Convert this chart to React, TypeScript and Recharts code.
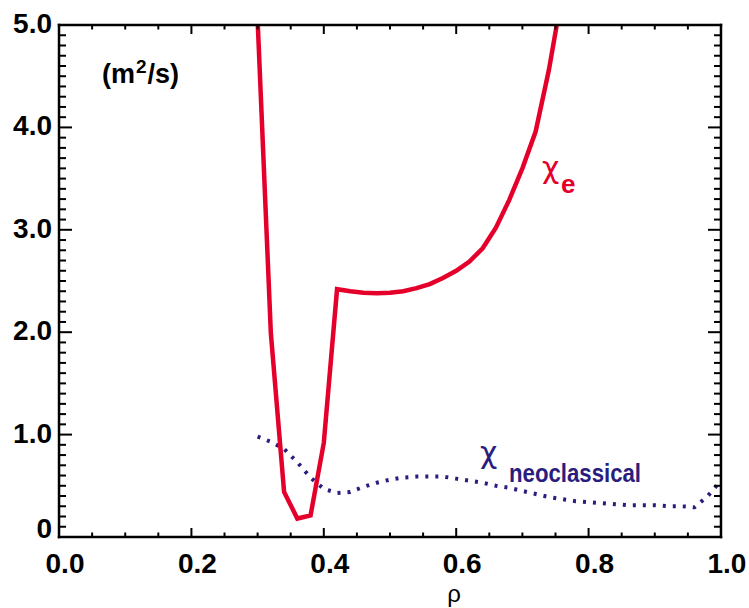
import React from 'react';
import { LineChart, Line, XAxis, YAxis } from 'recharts';

// rho grid and the two diffusivity profiles (m^2/s)
const rho = [
  0.30, 0.32, 0.34, 0.36, 0.38, 0.40, 0.42, 0.44, 0.46, 0.48, 0.50, 0.52,
  0.54, 0.56, 0.58, 0.60, 0.62, 0.64, 0.66, 0.68, 0.70, 0.72, 0.74, 0.76,
  0.78, 0.80, 0.82, 0.84, 0.86, 0.88, 0.90, 0.92, 0.94, 0.96, 0.98, 1.00,
];
const chiE = [
  5.05, 1.99, 0.44, 0.18, 0.21, 0.92, 2.42, 2.40, 2.385, 2.38, 2.385, 2.40,
  2.43, 2.47, 2.53, 2.60, 2.69, 2.82, 3.02, 3.29, 3.60, 3.96, 4.56, 5.30,
];
const chiNeo = [
  0.98, 0.93, 0.86, 0.73, 0.58, 0.47, 0.43, 0.44, 0.49, 0.53, 0.56, 0.58,
  0.59, 0.59, 0.59, 0.57, 0.55, 0.53, 0.50, 0.48, 0.45, 0.42, 0.39, 0.37,
  0.35, 0.34, 0.33, 0.32, 0.31, 0.31, 0.31, 0.30, 0.30, 0.29, 0.40, 0.55,
];

const xMajor = [0, 0.2, 0.4, 0.6, 0.8, 1.0];
const xMinor = [0.05, 0.1, 0.15, 0.25, 0.3, 0.35, 0.45, 0.5, 0.55, 0.65, 0.7, 0.75, 0.85, 0.9, 0.95];
const yMajor = [0, 1, 2, 3, 4, 5];
const yMinor = [
  0.1, 0.2, 0.3, 0.4, 0.5, 0.6, 0.7, 0.8, 0.9,
  1.1, 1.2, 1.3, 1.4, 1.5, 1.6, 1.7, 1.8, 1.9,
  2.1, 2.2, 2.3, 2.4, 2.5, 2.6, 2.7, 2.8, 2.9,
  3.1, 3.2, 3.3, 3.4, 3.5, 3.6, 3.7, 3.8, 3.9,
  4.1, 4.2, 4.3, 4.4, 4.5, 4.6, 4.7, 4.8, 4.9,
];
const yLabels = ['0', '1.0', '2.0', '3.0', '4.0', '5.0'];

const data = rho.map((r, i) => ({
  rho: r,
  chiE: i < chiE.length ? chiE[i] : null,
  chiNeo: chiNeo[i],
}));

const FONT = '"Liberation Sans", Arial, Helvetica, sans-serif';
const GREEK = '"DejaVu Sans", sans-serif';
const RED = '#e4002b';
const BLUE = '#2b1d7d';
// axes must have a positive size to be drawn; keep it negligible
const THIN = 0.01;

const axisStyle = { stroke: '#000', strokeWidth: 2.5, strokeLinecap: 'square' as const };

type Side = 'bottom' | 'top' | 'left' | 'right';

// tick renderer that draws an inward tick mark (and optionally the label)
const makeTick = (side: Side, len: number, withLabel: boolean) => (props: any) => {
  const { x, y, payload } = props;
  const v = Number(payload.value);
  let x2 = x;
  let y2 = y;
  if (side === 'bottom') y2 = y - len;
  if (side === 'top') y2 = y + len;
  if (side === 'left') x2 = x + len;
  if (side === 'right') x2 = x - len;
  let label = null;
  if (withLabel && side === 'bottom') {
    label = (
      <text x={x + 6} y={y + 36} textAnchor="middle" fontSize={28} fontWeight="bold" fontFamily={FONT} fill="#000">
        {v.toFixed(1)}
      </text>
    );
  }
  if (withLabel && side === 'left') {
    label = (
      <text x={x - 7} y={y + (v === 0 ? 1 : 8)} textAnchor="end" fontSize={28} fontWeight="bold" fontFamily={FONT} fill="#000">
        {yLabels[yMajor.indexOf(v)]}
      </text>
    );
  }
  return (
    <g>
      <line x1={x} y1={y} x2={x2} y2={y2} stroke="#000" strokeWidth={2} />
      {label}
    </g>
  );
};

export default function App() {
  return (
    <div style={{ position: 'absolute', left: 0, top: 0, width: 749, height: 608, background: '#fff' }}>
      <LineChart width={749} height={608} data={data} margin={{ top: 25, right: 28, bottom: 71, left: 59 }}>
        {/* bottom */}
        <XAxis xAxisId="x" dataKey="rho" type="number" domain={[0, 1]} allowDataOverflow ticks={xMajor} interval={0}
          height={THIN} tickSize={0} tickMargin={0} axisLine={axisStyle} tickLine={false} tick={makeTick('bottom', 9, true)} />
        <XAxis xAxisId="xm" dataKey="rho" type="number" domain={[0, 1]} allowDataOverflow ticks={xMinor} interval={0}
          height={THIN} tickSize={0} tickMargin={0} axisLine={false} tickLine={false} tick={makeTick('bottom', 4.5, false)} />
        {/* top */}
        <XAxis xAxisId="xt" orientation="top" dataKey="rho" type="number" domain={[0, 1]} allowDataOverflow ticks={xMajor} interval={0}
          height={THIN} tickSize={0} tickMargin={0} axisLine={axisStyle} tickLine={false} tick={makeTick('top', 9, false)} />
        <XAxis xAxisId="xtm" orientation="top" dataKey="rho" type="number" domain={[0, 1]} allowDataOverflow ticks={xMinor} interval={0}
          height={THIN} tickSize={0} tickMargin={0} axisLine={false} tickLine={false} tick={makeTick('top', 4.5, false)} />
        {/* left */}
        <YAxis yAxisId="y" type="number" domain={[0, 5]} allowDataOverflow ticks={yMajor} interval={0}
          width={THIN} tickSize={0} tickMargin={0} axisLine={axisStyle} tickLine={false} tick={makeTick('left', 13, true)} />
        <YAxis yAxisId="ym" type="number" domain={[0, 5]} allowDataOverflow ticks={yMinor} interval={0}
          width={THIN} tickSize={0} tickMargin={0} axisLine={false} tickLine={false} tick={makeTick('left', 7, false)} />
        {/* right */}
        <YAxis yAxisId="yr" orientation="right" type="number" domain={[0, 5]} allowDataOverflow ticks={yMajor} interval={0}
          width={THIN} tickSize={0} tickMargin={0} axisLine={axisStyle} tickLine={false} tick={makeTick('right', 13, false)} />
        <YAxis yAxisId="yrm" orientation="right" type="number" domain={[0, 5]} allowDataOverflow ticks={yMinor} interval={0}
          width={THIN} tickSize={0} tickMargin={0} axisLine={false} tickLine={false} tick={makeTick('right', 7, false)} />

        <Line xAxisId="x" yAxisId="y" type="linear" dataKey="chiNeo" stroke={BLUE} strokeWidth={4}
          strokeDasharray="3 7" dot={false} activeDot={false} isAnimationActive={false} />
        <Line xAxisId="x" yAxisId="y" type="linear" dataKey="chiE" stroke={RED} strokeWidth={4.5}
          strokeLinejoin="miter" dot={false} activeDot={false} isAnimationActive={false} />
      </LineChart>

      <svg width={749} height={608} style={{ position: 'absolute', left: 0, top: 0, pointerEvents: 'none' }}>
        {/* units */}
        <text x={102} y={83} fontSize={27} fontWeight="bold" fontFamily={FONT} fill="#000">(m</text>
        <text x={136} y={73} fontSize={19} fontWeight="bold" fontFamily={FONT} fill="#000">2</text>
        <text x={147.5} y={83} fontSize={27} fontWeight="bold" fontFamily={FONT} fill="#000">/s)</text>

        {/* chi_e label */}
        <text x={542} y={178} fontSize={30} fontFamily={GREEK} fill={RED}>χ</text>
        <text x={561} y={193} fontSize={26} fontWeight="bold" fontFamily={FONT} fill={RED}>e</text>

        {/* chi_neoclassical label */}
        <text x={480} y={463} fontSize={30} fontFamily={GREEK} fill={BLUE}>χ</text>
        <text x={509} y={481.5} fontSize={26} fontWeight="bold" fontFamily={FONT} fill={BLUE}
          textLength={132} lengthAdjust="spacingAndGlyphs">neoclassical</text>

        {/* x-axis title */}
        <text x={454} y={602} textAnchor="middle" fontSize={24} fontFamily={FONT} fill="#000">ρ</text>
      </svg>
    </div>
  );
}
